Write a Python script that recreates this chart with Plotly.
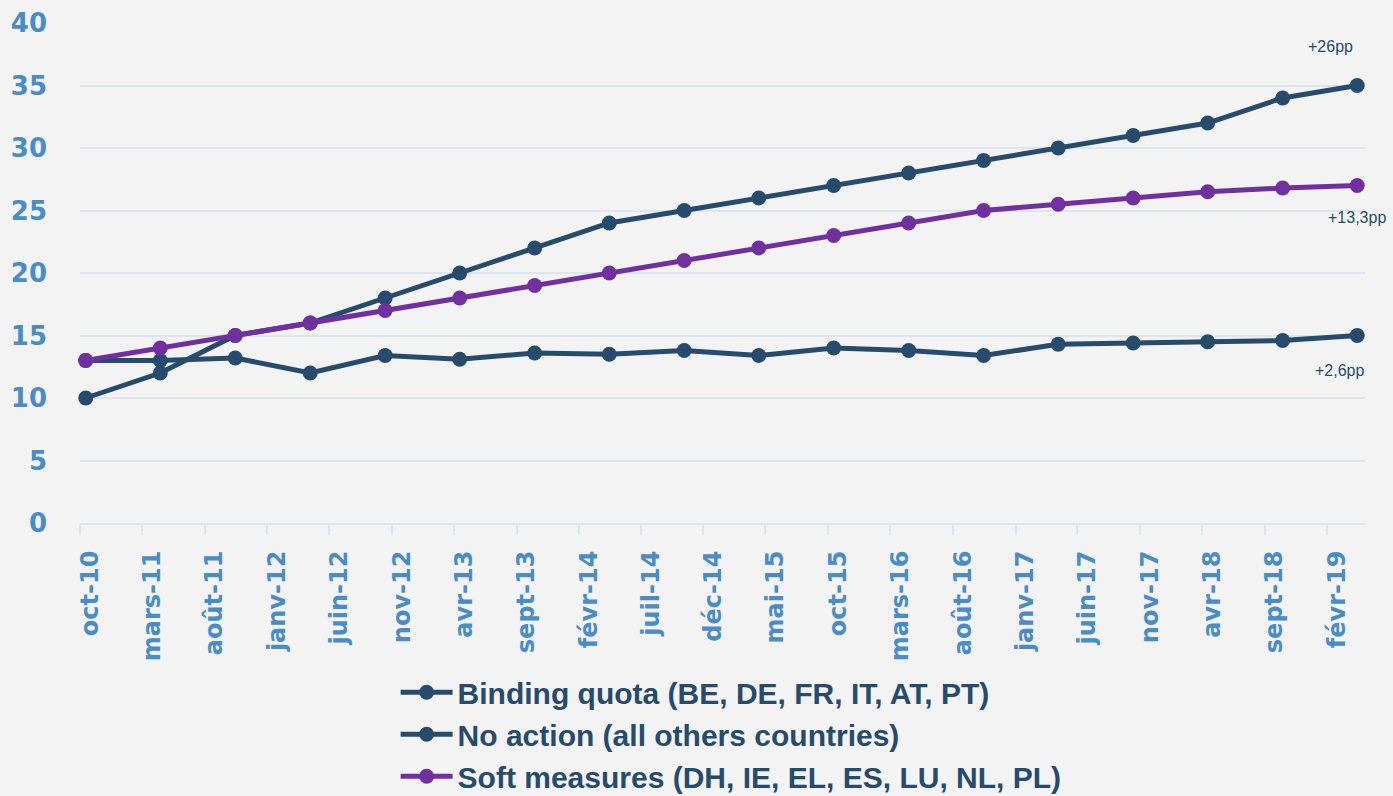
import plotly.graph_objects as go

# half-year survey waves
dates = ["2010-10-15", "2011-04-15", "2011-10-15", "2012-04-15", "2012-10-15", "2013-04-15",
         "2013-10-15", "2014-04-15", "2014-10-15", "2015-04-15", "2015-10-15", "2016-04-15",
         "2016-10-15", "2017-04-15", "2017-10-15", "2018-04-15", "2018-10-15", "2019-04-15"]

binding = [10, 12, 15, 16, 18, 20, 22, 24, 25, 26, 27, 28, 29, 30, 31, 32, 34, 35]
no_action = [13, 13, 13.2, 12, 13.4, 13.1, 13.6, 13.5, 13.8, 13.4, 14, 13.8, 13.4, 14.3, 14.4, 14.5, 14.6, 15]
soft = [13, 14, 15, 16, 17, 18, 19, 20, 21, 22, 23, 24, 25, 25.5, 26, 26.5, 26.8, 27]

tick_dates = ["2010-10-01", "2011-03-01", "2011-08-01", "2012-01-01", "2012-06-01", "2012-11-01",
              "2013-04-01", "2013-09-01", "2014-02-01", "2014-07-01", "2014-12-01", "2015-05-01",
              "2015-10-01", "2016-03-01", "2016-08-01", "2017-01-01", "2017-06-01", "2017-11-01",
              "2018-04-01", "2018-09-01", "2019-02-01"]
tick_labels = ["oct-10", "mars-11", "août-11", "janv-12", "juin-12", "nov-12", "avr-13", "sept-13",
               "févr-14", "juil-14", "déc-14", "mai-15", "oct-15", "mars-16", "août-16", "janv-17",
               "juin-17", "nov-17", "avr-18", "sept-18", "févr-19"]

names = ["Binding quota (BE, DE, FR, IT, AT, PT)",
         "No action (all others countries)",
         "Soft measures (DH, IE, EL, ES, LU, NL, PL)"]
gains = ["+26pp", "+2,6pp", "+13,3pp"]

navy = "#264b6c"
purple = "#7030a0"
tickblue = "#4a8cc6"
grid = "#dbe6f1"

fig = go.Figure()
for ys, nm, col in [(binding, names[0], navy), (no_action, names[1], navy), (soft, names[2], purple)]:
    fig.add_trace(go.Scatter(x=dates, y=ys, name=nm, mode="lines+markers",
                             line=dict(color=col, width=5),
                             marker=dict(color=col, size=15),
                             cliponaxis=False))

# end-of-period gain labels
shifts = [(-27, 39), (-18, -35), (0, -32)]
for ys, txt, (dx, dy) in zip([binding, no_action, soft], gains, shifts):
    fig.add_annotation(x=dates[-1], y=ys[-1], text=txt, showarrow=False,
                       xshift=dx, yshift=dy,
                       font=dict(family="Liberation Sans, Arial", size=16, color=navy))

fig.update_layout(
    width=1393, height=796,
    paper_bgcolor="#f3f3f3", plot_bgcolor="#f3f3f3",
    margin=dict(l=80, r=28, t=23, b=273, autoexpand=False),
    showlegend=True,
    legend=dict(xref="container", yref="container", x=0.284, y=0.163,
                xanchor="left", yanchor="top", bgcolor="rgba(0,0,0,0)",
                itemwidth=52,
                font=dict(family="Liberation Sans, Arial, sans-serif",
                          size=30, color=navy, weight="bold"),
                tracegroupgap=0),
)
fig.update_xaxes(type="date", range=["2010-10-01", "2019-05-04"], automargin=False,
                 tickmode="array", tickvals=tick_dates, ticktext=tick_labels,
                 tickangle=-90, showgrid=False,
                 ticks="outside", ticklen=10, tickwidth=2, tickcolor=grid,
                 showline=True, linecolor=grid, linewidth=2,
                 ticklabelshift=10, ticklabelstandoff=6,
                 tickfont=dict(family="DejaVu Sans", size=24, color=tickblue, weight="bold"))
fig.update_yaxes(range=[0, 40], tickvals=[0, 5, 10, 15, 20, 25, 30, 35, 40], automargin=False,
                 showgrid=True, gridcolor=grid, gridwidth=2, zeroline=False,
                 ticklabelstandoff=32,
                 tickfont=dict(family="DejaVu Sans", size=26, color=tickblue, weight="bold"))

fig.write_html("out.html", config={"displayModeBar": False},
               post_script="document.body.style.margin='0';")
